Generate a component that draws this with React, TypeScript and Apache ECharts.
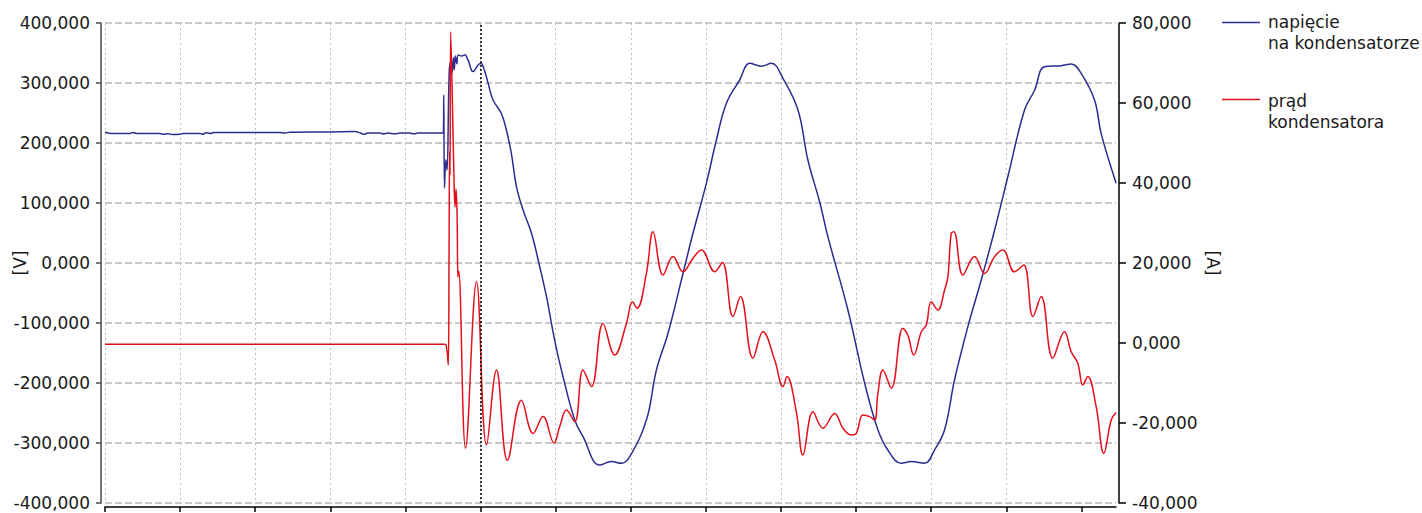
import React, { useEffect, useRef } from "react";
import * as echarts from "echarts";

// time [ms], capacitor voltage [V]
const voltage: [number, number][] = [
  [0, 218.0], [0.47, 216.0], [1.66, 216.0], [1.86, 217.5], [2.13, 216.0], [3.66, 216.0], [3.86, 214.5],
  [4.19, 215.5], [4.46, 214.0], [4.99, 214.5], [5.19, 216.0], [6.32, 216.0], [6.52, 214.5], [6.72, 217.0],
  [6.99, 216.0], [7.25, 217.5], [11.64, 217.5], [11.98, 216.5], [12.31, 218.0], [14.97, 218.5], [16.63, 219.0],
  [16.97, 217.0], [17.23, 214.5], [17.5, 216.5], [18.3, 216.5], [18.56, 215.0], [18.83, 216.5], [19.29, 215.5],
  [19.63, 216.5], [20.29, 216.5], [20.56, 215.5], [20.83, 216.5], [22.44, 216.5], [22.52, 216.5], [22.55, 280.0],
  [22.6, 125.0], [22.69, 172.0], [22.77, 155.0], [22.92, 322.0], [23.05, 338.0], [23.12, 318.0], [23.19, 342.0],
  [23.25, 322.0], [23.32, 345.0], [23.42, 332.0], [23.51, 346.7], [23.75, 345.0], [23.95, 347.0], [24.17, 338.0],
  [24.5, 319.0], [24.84, 330.0], [25.02, 332.8], [25.28, 319.0], [25.5, 300.0], [25.83, 271.7], [26.38, 249.5],
  [26.72, 221.7], [27.05, 182.8], [27.39, 127.2], [27.83, 88.3], [28.39, 49.5], [28.94, -6.2], [29.39, -56.2],
  [29.95, -131.0], [30.49, -189.5], [31.27, -261.7], [31.82, -289.5], [32.93, -336.7], [33.71, -331.0],
  [34.38, -333.9], [34.93, -322.8], [36.04, -261.7], [36.71, -178.0], [37.48, -117.0], [38.48, -17.0],
  [39.14, 49.5], [40.03, 132.8], [40.7, 205.0], [41.36, 266.0], [42.25, 305.0], [42.91, 332.8], [43.69, 328.0],
  [44.36, 332.8], [45.13, 307.8], [46.13, 255.0], [46.79, 171.7], [47.57, 102.0], [48.12, 43.9], [49.45, -78.0],
  [50.57, -200.5], [51.45, -278.0], [52.11, -311.7], [53.01, -333.9], [53.67, -331.0], [54.56, -333.9],
  [55.22, -311.7], [55.89, -278.0], [56.55, -195.0], [57.44, -106.0], [58.33, -28.3], [59.22, 55.0],
  [60.1, 143.8], [61.21, 255.0], [61.88, 288.0], [62.54, 327.0], [63.65, 328.9], [64.32, 331.7], [64.98, 316.0],
  [65.87, 271.7], [66.31, 216.0], [67.31, 132.8],
];

// time [ms], capacitor current [A]
const current: [number, number][] = [
  [0, -0.3], [22.62, -0.3], [22.75, -1.5], [22.85, -5.5], [22.9, 20.0], [22.94, 48.0], [22.97, 42.0],
  [23.01, 77.8], [23.24, 40.0], [23.3, 34.0], [23.37, 38.5], [23.44, 31.5], [23.49, 16.5], [23.54, 18.0],
  [24.0, -26.3], [24.73, 15.3], [25.4, -25.5], [26.06, -6.75], [26.79, -29.3], [27.72, -14.3], [28.5, -22.6],
  [29.16, -18.4], [29.89, -25.0], [30.27, -20.9], [30.72, -16.75], [31.27, -19.7], [31.82, -6.75],
  [32.38, -10.9], [33.15, 4.9], [33.93, -3.0], [34.71, 4.9], [35.11, 10.3], [35.42, 8.7], [36.04, 17.4],
  [36.48, 27.8], [37.15, 17.0], [37.81, 21.6], [38.48, 17.8], [39.14, 21.2], [39.7, 23.25], [40.59, 17.8],
  [41.1, 20.1], [41.8, 6.6], [42.3, 11.6], [43.13, -3.8], [43.8, 2.8], [44.58, -4.25], [45.13, -10.9],
  [45.4, -8.4], [46.02, -17.2], [46.46, -28.0], [47.13, -17.2], [47.79, -21.3], [48.57, -17.6], [49.12, -21.3],
  [49.68, -23.0], [50.01, -22.6], [50.45, -18.0], [50.9, -18.4], [51.23, -19.25], [51.45, -12.6],
  [51.78, -6.75], [52.34, -11.3], [53.11, 3.7], [53.44, 2.0], [53.84, -3.0], [54.34, 2.8], [54.67, 4.5],
  [55.0, 10.3], [55.44, 8.25], [55.89, 13.25], [56.11, 16.6], [56.33, 27.4], [56.51, 27.8], [57.11, 17.0],
  [57.88, 21.6], [58.55, 17.4], [59.22, 21.6], [59.77, 23.25], [60.54, 17.8], [61.16, 19.5], [61.77, 6.6],
  [62.32, 11.6], [63.09, -3.8], [63.87, 2.8], [64.32, -2.2], [64.76, -5.1], [65.09, -10.5], [65.42, -8.4],
  [65.98, -15.9], [66.49, -27.6], [66.98, -19.25], [67.31, -17.4],
];

const xTicks = [0, 5, 10, 15, 20, 25, 30, 35, 40, 45, 50, 55, 60, 65];
const markerTime = 25;
const seriesNames = ["napięcie\nna kondensatorze", "prąd\nkondensatora"];

const FONT = "DejaVu Sans";
const BLUE = "#2b2d8e";
const RED = "#e3101b";
const fmt = (v: number) => v.toFixed(3).replace(".", ",");

export default function App() {
  const ref = useRef<HTMLDivElement>(null);
  useEffect(() => {
    const chart = echarts.init(ref.current!, null, { renderer: "svg" });
    chart.setOption({
      animation: false,
      textStyle: { fontFamily: FONT },
      grid: { left: 105, top: 23, width: 1011, height: 480, containLabel: false, outerBoundsMode: "none" },
      xAxis: {
        type: "value",
        min: 0,
        max: 67.3,
        interval: 5,
        offset: 4,
        axisLine: { show: true, onZero: false, lineStyle: { color: "#000", width: 1.5 } },
        axisTick: { show: true, length: 5, customValues: xTicks, lineStyle: { color: "#000", width: 1.5 } },
        axisLabel: { show: false },
        splitLine: { show: true, showMaxLine: false, lineStyle: { color: "#bdbdbd", type: [2, 3], width: 1 } },
      },
      yAxis: [
        {
          type: "value",
          position: "left",
          min: -400,
          max: 400,
          interval: 100,
          offset: 4,
          name: "[V]",
          nameLocation: "middle",
          nameGap: 73,
          nameRotate: 90,
          nameMoveOverlap: false,
          nameTextStyle: { fontSize: 17, color: "#1a1a1a", fontFamily: FONT },
          axisLine: { show: true, onZero: false, lineStyle: { color: "#4a4a4a", width: 1.5 } },
          axisTick: { show: true, length: 5, lineStyle: { color: "#4a4a4a", width: 1.5 } },
          axisLabel: { formatter: fmt, fontSize: 17, color: "#1a1a1a", margin: 11, fontFamily: FONT },
          splitLine: { show: true, lineStyle: { color: "#b8b8b8", type: [7, 3], width: 1.5 } },
        },
        {
          type: "value",
          position: "right",
          min: -40,
          max: 80,
          interval: 20,
          offset: 3,
          name: "[A]",
          nameLocation: "middle",
          nameGap: 85,
          nameRotate: -90,
          nameMoveOverlap: false,
          nameTextStyle: { fontSize: 17, color: "#1a1a1a", fontFamily: FONT },
          axisLine: { show: true, onZero: false, lineStyle: { color: "#000", width: 1.5 } },
          axisTick: { show: true, length: 7, lineStyle: { color: "#000", width: 1.5 } },
          axisLabel: { formatter: fmt, fontSize: 17, color: "#1a1a1a", margin: 13, fontFamily: FONT },
          splitLine: { show: false },
        },
      ],
      series: [
        {
          name: seriesNames[0],
          type: "line",
          yAxisIndex: 0,
          data: voltage,
          showSymbol: false,
          smooth: 0.4,
          lineStyle: { color: BLUE, width: 1.5 },
          itemStyle: { color: BLUE },
          markLine: {
            silent: true,
            symbol: ["none", "none"],
            label: { show: false },
            lineStyle: { color: "#000", type: [2, 2], width: 1.5 },
            data: [{ xAxis: markerTime }],
          },
        },
        {
          name: seriesNames[1],
          type: "line",
          yAxisIndex: 1,
          data: current,
          showSymbol: false,
          smooth: 0.4,
          lineStyle: { color: RED, width: 1.5 },
          itemStyle: { color: RED },
        },
      ],
      graphic: [
        { type: "line", shape: { x1: 1222, y1: 22.5, x2: 1260, y2: 22.5 }, style: { stroke: BLUE, lineWidth: 1.5 } },
        {
          type: "text",
          x: 1268,
          y: 11,
          style: { text: seriesNames[0], fontSize: 17, fontFamily: FONT, fill: "#1a1a1a", lineHeight: 21, verticalAlign: "top" },
        },
        { type: "line", shape: { x1: 1222, y1: 99.5, x2: 1260, y2: 99.5 }, style: { stroke: RED, lineWidth: 1.5 } },
        {
          type: "text",
          x: 1268,
          y: 90,
          style: { text: seriesNames[1], fontSize: 17, fontFamily: FONT, fill: "#1a1a1a", lineHeight: 21, verticalAlign: "top" },
        },
      ],
    });
    return () => chart.dispose();
  }, []);
  return <div ref={ref} style={{ position: "absolute", left: 0, top: 0, width: 1422, height: 513 }} />;
}
